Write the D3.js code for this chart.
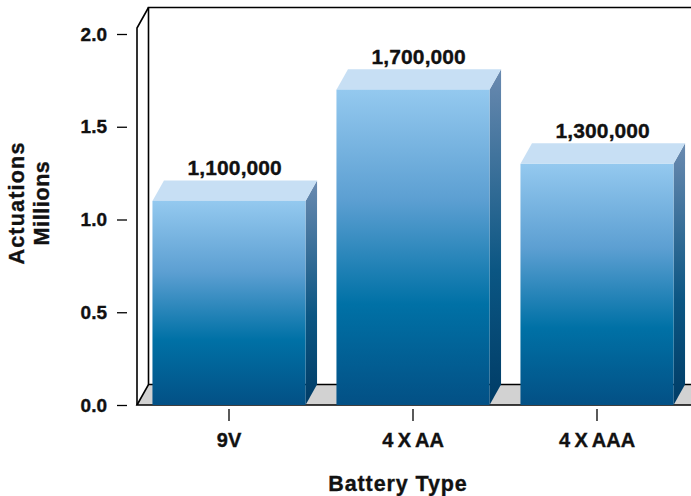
<!DOCTYPE html>
<html lang="en">
<head>
  <meta charset="utf-8">
  <script src="https://d3js.org/d3.v7.min.js"></script>
  <style>
    body { margin: 0; background: #fff; }
    text { font-family: "Liberation Sans", Arial, Helvetica, sans-serif; font-weight: bold; fill: #111; stroke: #111; stroke-width: 0.35px; }
  </style>
</head>
<body>
<script type="text/javascript">
  var w = 691;
  var h = 496;

  // data
  var categories = ["9V", "4 X AA", "4 X AAA"];
  var actuations = [1.1, 1.7, 1.3];           // millions
  var valueLabels = ["1,100,000", "1,700,000", "1,300,000"];
  var yTicks = [0, 0.5, 1.0, 1.5, 2.0];

  // 3d depth offset
  var dx = 11.5, dy = -20.5;

  var svg = d3.select("body")
          .append("svg")
          .attr("width", w)
          .attr("height", h);

  var defs = svg.append("defs");

  var gFront = defs.append("linearGradient").attr("id", "front")
          .attr("x1", 0).attr("y1", 0).attr("x2", 0).attr("y2", 1);
  gFront.append("stop").attr("offset", "0%").attr("stop-color", "#94c9ef");
  gFront.append("stop").attr("offset", "35%").attr("stop-color", "#5c9fd2");
  gFront.append("stop").attr("offset", "68%").attr("stop-color", "#0071a6");
  gFront.append("stop").attr("offset", "100%").attr("stop-color", "#035085");

  var gSide = defs.append("linearGradient").attr("id", "side")
          .attr("x1", 0).attr("y1", 0).attr("x2", 0).attr("y2", 1);
  gSide.append("stop").attr("offset", "0%").attr("stop-color", "#6a8ab0");
  gSide.append("stop").attr("offset", "60%").attr("stop-color", "#0b5683");
  gSide.append("stop").attr("offset", "100%").attr("stop-color", "#003c66");

  var y = d3.scaleLinear().domain([0, 2]).range([405, 34]);
  var x = d3.scaleBand().domain(categories).range([137, 689])
          .paddingInner(0.168).paddingOuter(0.084);

  var x0 = 137, x1 = 689, yb = y(0), yt = y(2) - 6;

  // back wall
  svg.append("path")
    .attr("d", `M${x0+dx},${yb+dy} L${x0+dx},${yt+dy} L${x1+dx+20},${yt+dy}`)
    .attr("fill", "none").attr("stroke", "#000").attr("stroke-width", 1.6);

  // floor
  svg.append("path")
    .attr("d", `M${x0},${yb} L${x0+dx},${yb+dy} L${x1+dx+20},${yb+dy} L${x1+20},${yb} Z`)
    .attr("fill", "#d2d2d2").attr("stroke", "#000").attr("stroke-width", 1.6);

  // left front edge + top diagonal
  svg.append("path")
    .attr("d", `M${x0},${yb} L${x0},${yt} L${x0+dx},${yt+dy}`)
    .attr("fill", "none").attr("stroke", "#000").attr("stroke-width", 1.6);

  // bars
  var bars = svg.selectAll("g.bar")
          .data(categories.map(function(c, i){ return {c: c, v: actuations[i], label: valueLabels[i]}; }))
          .join("g")
          .attr("class", "bar");

  var bw = x.bandwidth();

  bars.append("path") // side
    .attr("d", function(d){
      var xr = x(d.c) + bw, yv = y(d.v);
      return `M${xr},${yb} L${xr},${yv} L${xr+dx},${yv+dy} L${xr+dx},${yb+dy} Z`;
    })
    .attr("fill", "url(#side)");

  bars.append("path") // top
    .attr("d", function(d){
      var xl = x(d.c), yv = y(d.v);
      return `M${xl},${yv} L${xl+dx},${yv+dy} L${xl+bw+dx},${yv+dy} L${xl+bw},${yv} Z`;
    })
    .attr("fill", "#c7dff4");

  bars.append("rect") // front
    .attr("x", function(d){ return x(d.c); })
    .attr("y", function(d){ return y(d.v); })
    .attr("width", bw)
    .attr("height", function(d){ return yb - y(d.v); })
    .attr("fill", "url(#front)");

  bars.append("text")
    .attr("x", function(d){ return x(d.c) + bw / 2 + dx / 2; })
    .attr("y", function(d){ return y(d.v) + dy - 5.5; })
    .attr("text-anchor", "middle")
    .style("font-size", "21px")
    .style("letter-spacing", "0.1px")
    .text(function(d){ return d.label; });

  // y axis
  var yAxis = svg.append("g")
          .attr("transform", "translate(127,0)")
          .call(d3.axisLeft(y).tickValues(yTicks).tickFormat(d3.format(".1f")).tickSize(10).tickPadding(10));
  yAxis.select(".domain").remove();
  yAxis.selectAll(".tick line").attr("stroke", "#000").attr("stroke-width", 1.3);
  yAxis.selectAll(".tick text").style("font-size", "19px").attr("fill", "#111");

  // x axis
  var xAxis = svg.append("g")
          .attr("transform", "translate(0,409)")
          .call(d3.axisBottom(x).tickSize(12).tickPadding(12));
  xAxis.select(".domain").remove();
  xAxis.selectAll(".tick line").attr("stroke", "#000").attr("stroke-width", 1.3);
  xAxis.selectAll(".tick text").style("font-size", "20px").style("word-spacing", "-1px").attr("fill", "#111");

  // titles
  svg.append("text")
    .attr("x", 398).attr("y", 491)
    .attr("text-anchor", "middle")
    .style("font-size", "21.5px").style("letter-spacing", "0.9px")
    .text("Battery Type");

  svg.append("text")
    .attr("transform", "translate(24,203) rotate(-90)")
    .attr("text-anchor", "middle")
    .style("font-size", "21.5px").style("letter-spacing", "1.2px")
    .text("Actuations");

  svg.append("text")
    .attr("transform", "translate(49,203) rotate(-90)")
    .attr("text-anchor", "middle")
    .style("font-size", "21.5px").style("letter-spacing", "0.6px")
    .text("Millions");
</script>
</body>
</html>
